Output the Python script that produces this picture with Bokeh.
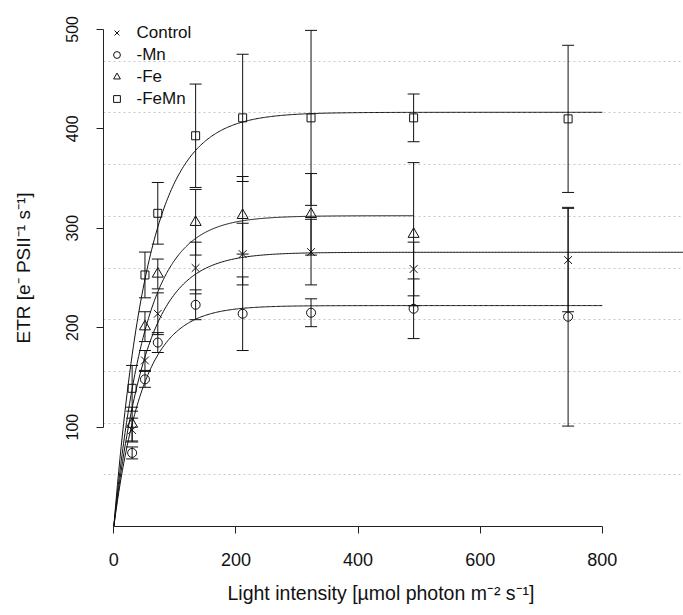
import numpy as np
from bokeh.plotting import figure
from bokeh.models import (ColumnDataSource, Whisker, TeeHead, Legend, LegendItem,
                          Title, FixedTicker, Range1d)
from bokeh.embed import file_html
from bokeh.resources import INLINE

# ---- data ----
light = [30, 51, 72, 134, 211, 323, 491, 744]
fe_light = [30, 51, 72, 134, 211, 323, 491]

control_etr = [97, 167, 214, 260, 274, 276, 259, 268]
control_sd = [12, 10, 21, 26, 31, 33, 27, 52]
mn_etr = [74, 148, 185, 223, 214, 215, 219, 211]
mn_sd = [6, 8, 10, 15, 37, 14, 30, 110]
fe_etr = [103, 201, 254, 306, 313, 314, 294]
fe_sd = [17, 15, 15, 33, 39, 41, 72]
femn_etr = [139, 253, 315, 393, 411, 411, 411, 410]
femn_sd = [23, 23, 31, 52, 64, 88, 24, 74]

series_names = ["Control", "-Mn", "-Fe", "-FeMn"]
# fitted light-curve parameters (ETRmax, initial slope alpha) and fitted range
fit_pmax = [275.8, 222.2, 312.6, 416.6]
fit_alpha = [5.21, 4.62, 6.10, 7.42]
fit_end = [950, 800, 491, 800]

x_ticks = [0, 200, 400, 600, 800]
y_ticks = [100, 200, 300, 400, 500]

FONT = "Liberation Sans"
INK = "#111111"

p = figure(width=683, height=615, output_backend="svg", toolbar_location=None,
           x_range=Range1d(-16.9, 933), y_range=Range1d(0, 520),
           min_border_left=103, min_border_right=0, min_border_top=9,
           min_border_bottom=88)
p.outline_line_color = None
p.background_fill_color = "white"
p.border_fill_color = "white"

# grid (horizontal dotted only, 10 equal divisions of the y range)
p.xgrid.grid_line_color = None
p.ygrid.ticker = FixedTicker(ticks=list(np.linspace(0, 520, 11)[1:-1]))
p.ygrid.grid_line_color = "#c8c8c8"
p.ygrid.grid_line_dash = "2 3"
p.ygrid.grid_line_width = 1

# axes in R style
for ax, ticks in ((p.xaxis[0], x_ticks), (p.yaxis[0], y_ticks)):
    ax.ticker = FixedTicker(ticks=ticks)
    ax.bounds = (ticks[0], ticks[-1])
    ax.major_tick_out = 7
    ax.major_tick_in = 0
    ax.minor_tick_out = 0
    ax.minor_tick_in = 0
    ax.axis_line_color = "#222222"
    ax.major_tick_line_color = "#222222"
    ax.major_label_text_font = FONT
    ax.major_label_text_color = INK
p.xaxis.major_label_text_font_size = "18px"
p.xaxis.major_label_standoff = 19
p.yaxis.major_label_text_font_size = "16px"
p.yaxis.major_label_orientation = "vertical"
p.yaxis.major_label_standoff = 18

# y axis title
p.yaxis.axis_label = "ETR [e\u207b PSII\u207b\u00b9 s\u207b\u00b9]"
p.yaxis.axis_label_standoff = 30
p.yaxis.axis_label_text_font = FONT
p.yaxis.axis_label_text_font_size = "19px"
p.yaxis.axis_label_text_font_style = "normal"
p.yaxis.axis_label_text_color = INK

# fitted curves
for pm, a, end in zip(fit_pmax, fit_alpha, fit_end):
    xs = np.linspace(0, end, 400)
    ys = pm * (1 - np.exp(-a * xs / pm))
    p.line(xs, ys, line_color=INK, line_width=1)

series = [
    (light, control_etr, control_sd, "x", 11),
    (light, mn_etr, mn_sd, "circle", 9),
    (fe_light, fe_etr, fe_sd, "triangle", 11),
    (light, femn_etr, femn_sd, "square", 8),
]

renderers = []
for (xs, ys, sd, marker, size) in series:
    src = ColumnDataSource(dict(x=xs, y=ys,
                                upper=[v + e for v, e in zip(ys, sd)],
                                lower=[v - e for v, e in zip(ys, sd)]))
    w = Whisker(source=src, base="x", upper="upper", lower="lower",
                dimension="height", line_color=INK, line_width=1,
                upper_head=TeeHead(size=12, line_color=INK, line_width=1),
                lower_head=TeeHead(size=12, line_color=INK, line_width=1))
    p.add_layout(w)
    r = p.scatter("x", "y", source=src, marker=marker, size=size,
                  line_color=INK, fill_color=None, line_width=1)
    renderers.append(r)

legend = Legend(items=[LegendItem(label=n, renderers=[r]) for n, r in zip(series_names, renderers)],
                location=(4.5, 417.5), glyph_width=17, glyph_height=17, spacing=2,
                padding=4, margin=0, label_standoff=12,
                label_text_font=FONT, label_text_font_size="17px",
                label_text_color=INK,
                background_fill_alpha=0, border_line_color=None)
p.add_layout(legend)

# x axis title
p.add_layout(Title(text="Light intensity [µmol photon m\u207b\u00b2 s\u207b\u00b9]",
                   align="left", offset=124, standoff=23,
                   text_font=FONT, text_font_size="19.5px", text_font_style="normal",
                   text_color=INK), "below")

open("out.html", "w").write(file_html(p, INLINE))
